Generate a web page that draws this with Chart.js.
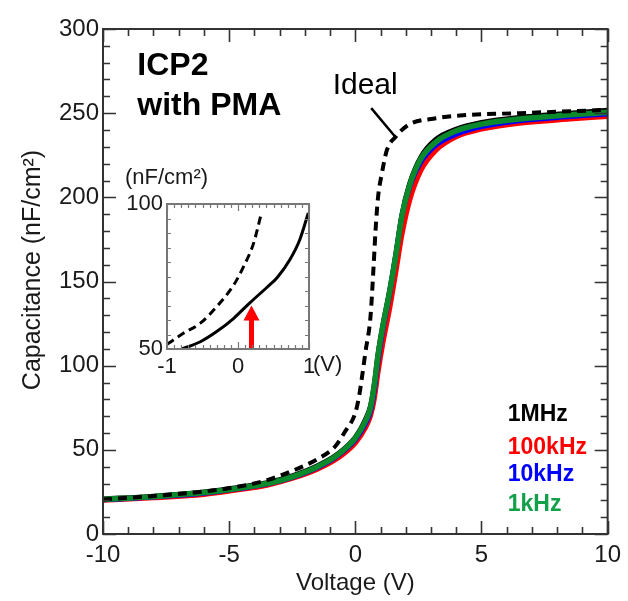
<!DOCTYPE html>
<html>
<head>
<meta charset="utf-8">
<title>ICP2 with PMA C-V</title>
<script src="https://cdn.jsdelivr.net/npm/chart.js@4.4.0/dist/chart.umd.min.js"></script>
<style>
html,body{margin:0;padding:0;background:#fff;}
#wrap{position:relative;width:628px;height:601px;}
#main{position:absolute;left:0;top:0;}
#inset{position:absolute;left:100px;top:160px;}
</style>
</head>
<body>
<div id="wrap">
  <canvas id="main" width="628" height="601"></canvas>
  <canvas id="inset" width="250" height="220"></canvas>
</div>
<script>
// main plot: voltage grid shared by the measured curves
var volt = [-10, -8, -6, -4.5, -3.5, -2.5, -1.5, -0.7, 0, 0.4, 0.6, 0.75, 0.9, 1.1, 1.35, 1.6, 1.85, 2.15, 2.6, 3.2, 4, 5, 6.5, 8.5, 10];
var cap1MHz   = [20.8, 22.5, 25, 28, 30.5, 34.5, 40.5, 47.5, 57.5, 68, 76, 89, 107, 125, 144, 166, 190, 208, 224, 234.5, 240.5, 244.5, 247.5, 250, 251.8];
var cap100kHz = [20, 21.5, 23.5, 26.5, 29, 33, 38.5, 45, 54, 63, 70, 80, 96, 114, 133, 155, 178, 198, 216, 228, 236, 240.5, 244, 246.5, 248];
var cap10kHz  = [20.3, 22, 24.2, 27.2, 29.6, 33.6, 39.5, 46.5, 56, 65.5, 73, 85, 103, 122, 142, 165, 189, 206, 221, 231, 237.5, 242, 245.5, 248, 249.5];
var cap1kHz   = [20.5, 22.2, 24.6, 27.5, 30, 34, 40, 47, 57, 67, 75, 88, 106, 124, 143, 165, 189, 207, 223, 233, 239.5, 243.5, 246.5, 249, 250.5];

// ideal (dashed) curve
var idealVolt = [-10, -8, -6, -4.5, -3.5, -2.5, -1.5, -0.8, -0.4, 0, 0.15, 0.3, 0.4, 0.6, 0.72, 0.8, 0.9, 1.05, 1.25, 1.6, 2.1, 3.2, 4.5, 6.5, 10];
var idealCap  = [20.5, 22.6, 25.2, 28.5, 32, 37.5, 44.5, 52, 61, 72, 82, 97, 108, 129, 158, 180, 200, 214, 228, 236, 243, 247, 249, 250, 252];

// inset (zoom of -1..1 V)
var insetIdealVolt = [-1, -0.77, -0.53, -0.3, -0.06, 0.08, 0.22, 0.33];
var insetIdealCap  = [51.6, 55.4, 58.9, 64.6, 72.1, 78.5, 86.5, 96.9];
var insetMeasVolt  = [-0.79, -0.53, -0.3, -0.06, 0.17, 0.41, 0.55, 0.73, 0.87, 0.99];
var insetMeasCap   = [50, 52.5, 56, 60.6, 66, 71.3, 74.6, 80.8, 87.7, 96.9];
var insetArrowVolt = 0.19;
var insetArrowCap  = [50, 65];

// tick labels
var xTicksMain = [-10, -5, 0, 5, 10];
var yTicksMain = [0, 50, 100, 150, 200, 250, 300];

var FONT = "'Liberation Sans', Arial, sans-serif";
var TXT = '#1a1a1a';

function pts(xs, ys){
    return xs.map(function(x, i){ return {x: x, y: ys[i]}; });
}

function line(label, xs, ys, color, width, dash){
    return {
        label: label, data: pts(xs, ys), borderColor: color, backgroundColor: color,
        borderWidth: width, borderDash: dash || [], pointRadius: 0,
        cubicInterpolationMode: 'monotone', fill: false
    };
}

// frame with inward ticks on all four sides
function frameTicks(chart, o){
    var ctx = chart.ctx, a = chart.chartArea, xs = chart.scales.x, ys = chart.scales.y;
    ctx.save();
    ctx.strokeStyle = o.color;
    ctx.lineWidth = o.tickWidth;
    ctx.beginPath();
    var nx = Math.round((xs.max - xs.min) / o.xMinor);
    for (var i = 0; i <= nx; i++) {
        var v = xs.min + i * o.xMinor;
        var px = Math.round(xs.getPixelForValue(v)) + 0.5;
        var len = (i % o.xEvery === 0) ? o.major : o.minor;
        ctx.moveTo(px, a.bottom); ctx.lineTo(px, a.bottom - len);
        ctx.moveTo(px, a.top); ctx.lineTo(px, a.top + len);
    }
    var ny = Math.round((ys.max - ys.min) / o.yMinor);
    for (var j = 0; j <= ny; j++) {
        var w = ys.min + j * o.yMinor;
        var py = Math.round(ys.getPixelForValue(w)) + 0.5;
        var l2 = (j % o.yEvery === 0) ? o.major : o.minor;
        ctx.moveTo(a.left, py); ctx.lineTo(a.left + l2, py);
        ctx.moveTo(a.right, py); ctx.lineTo(a.right - l2, py);
    }
    ctx.stroke();
    ctx.lineWidth = o.frameWidth;
    ctx.strokeRect(a.left, a.top, a.right - a.left, a.bottom - a.top);
    ctx.restore();
}

function textAt(ctx, s, x, y, font, color, align){
    ctx.font = font;
    ctx.fillStyle = color;
    ctx.textAlign = align || 'left';
    ctx.textBaseline = 'middle';
    ctx.fillText(s, x, y);
}

var mainDecor = {
    id: 'mainDecor',
    afterDatasetsDraw: function(chart){
        frameTicks(chart, {color: '#333', tickWidth: 1.6, frameWidth: 2, xMinor: 1, xEvery: 5, yMinor: 10, yEvery: 5, major: 13, minor: 7});
    },
    afterDraw: function(chart){
        var ctx = chart.ctx, xs = chart.scales.x, ys = chart.scales.y;
        var X = function(v){ return xs.getPixelForValue(v); };
        var Y = function(v){ return ys.getPixelForValue(v); };
        // y axis title
        ctx.save();
        ctx.translate(33, 270);
        ctx.rotate(-Math.PI / 2);
        textAt(ctx, 'Capacitance (nF/cm²)', 0, 0, '25px ' + FONT, TXT, 'center');
        ctx.restore();
        // sample name
        textAt(ctx, 'ICP2', X(-8.64), Y(278), 'bold 32px ' + FONT, '#000');
        textAt(ctx, 'with PMA', X(-8.64), Y(254), 'bold 32px ' + FONT, '#000');
        // ideal label and pointer
        textAt(ctx, 'Ideal', X(0.39), Y(266), '30px ' + FONT, '#000', 'center');
        ctx.save();
        ctx.strokeStyle = '#000'; ctx.lineWidth = 2.5;
        ctx.beginPath();
        ctx.moveTo(X(0.63), Y(253));
        ctx.lineTo(X(1.58), Y(236));
        ctx.stroke();
        ctx.restore();
        // frequency legend
        var leg = [['1MHz', '#000', 70.8], ['100kHz', '#ff0000', 51.2], ['10kHz', '#0000ff', 35.1], ['1kHz', '#13a04a', 17.3]];
        leg.forEach(function(l){
            textAt(ctx, l[0], X(6.04), Y(l[2]), 'bold 23px ' + FONT, l[1]);
        });
    }
};

new Chart(document.getElementById('main'), {
    type: 'line',
    data: {
        datasets: [
            line('Ideal', idealVolt, idealCap, '#000', 4, [9, 6]),
            line('1kHz', volt, cap1kHz, '#0b8a2b', 5.5),
            line('10kHz', volt, cap10kHz, '#0000ff', 5),
            line('100kHz', volt, cap100kHz, '#ff0000', 5),
            line('1MHz', volt, cap1MHz, '#000', 5)
        ]
    },
    options: {
        responsive: false,
        animation: false,
        layout: { padding: { top: 29, right: 18, left: 0, bottom: 0 } },
        plugins: { legend: { display: false }, tooltip: { enabled: false } },
        scales: {
            x: {
                type: 'linear', min: -10, max: 10,
                grid: { display: false, drawTicks: false }, border: { display: false },
                afterBuildTicks: function(s){ s.ticks = xTicksMain.map(function(v){ return {value: v}; }); },
                ticks: { padding: 7, color: TXT, font: { family: FONT, size: 24 }, maxRotation: 0 },
                title: { display: true, text: 'Voltage (V)', color: TXT, font: { family: FONT, size: 24 }, padding: { top: 0, bottom: 3 } },
                afterFit: function(s){ s.height = 67; }
            },
            y: {
                type: 'linear', min: 0, max: 300,
                grid: { display: false, drawTicks: false }, border: { display: false },
                afterBuildTicks: function(s){ s.ticks = yTicksMain.map(function(v){ return {value: v}; }); },
                ticks: { padding: 4, color: TXT, font: { family: FONT, size: 24 } },
                afterFit: function(s){ s.width = 103; }
            }
        }
    },
    plugins: [mainDecor]
});

var insetDecor = {
    id: 'insetDecor',
    afterDatasetsDraw: function(chart){
        var ctx = chart.ctx, xs = chart.scales.x, ys = chart.scales.y;
        // red arrow
        var ax = xs.getPixelForValue(insetArrowVolt);
        var y0 = ys.getPixelForValue(insetArrowCap[0]);
        var y1 = ys.getPixelForValue(insetArrowCap[1]);
        ctx.save();
        ctx.fillStyle = '#ff0000';
        ctx.fillRect(ax - 2.5, y1 + 13, 5, y0 - y1 - 13);
        ctx.beginPath();
        ctx.moveTo(ax, y1);
        ctx.lineTo(ax - 8, y1 + 15);
        ctx.lineTo(ax + 8, y1 + 15);
        ctx.closePath();
        ctx.fill();
        ctx.restore();
        frameTicks(chart, {color: '#777', tickWidth: 1.2, frameWidth: 2, xMinor: 0.1, xEvery: 10, yMinor: 5, yEvery: 10, major: 7, minor: 4});
    },
    afterDraw: function(chart){
        var ctx = chart.ctx, a = chart.chartArea;
        textAt(ctx, '(nF/cm²)', a.left - 42, a.top - 26, '22px ' + FONT, TXT);
        textAt(ctx, '(V)', a.right + 4, a.bottom + 16, '22px ' + FONT, TXT);
    }
};

new Chart(document.getElementById('inset'), {
    type: 'line',
    data: {
        datasets: [
            line('Ideal', insetIdealVolt, insetIdealCap, '#000', 3, [8, 5]),
            line('Measured', insetMeasVolt, insetMeasCap, '#000', 3)
        ]
    },
    options: {
        responsive: false,
        animation: false,
        layout: { padding: { top: 44, right: 41, left: 0, bottom: 0 } },
        plugins: { legend: { display: false }, tooltip: { enabled: false } },
        scales: {
            x: {
                type: 'linear', min: -1, max: 1,
                grid: { display: false, drawTicks: false }, border: { display: false },
                afterBuildTicks: function(s){ s.ticks = [-1, 0, 1].map(function(v){ return {value: v}; }); },
                ticks: { padding: 5, color: TXT, font: { family: FONT, size: 22 }, maxRotation: 0 },
                afterFit: function(s){ s.height = 31; }
            },
            y: {
                type: 'linear', min: 50, max: 100,
                grid: { display: false, drawTicks: false }, border: { display: false },
                afterBuildTicks: function(s){ s.ticks = [50, 100].map(function(v){ return {value: v}; }); },
                ticks: { padding: 4, color: TXT, font: { family: FONT, size: 22 } },
                afterFit: function(s){ s.width = 67; }
            }
        }
    },
    plugins: [insetDecor]
});
</script>
</body>
</html>
